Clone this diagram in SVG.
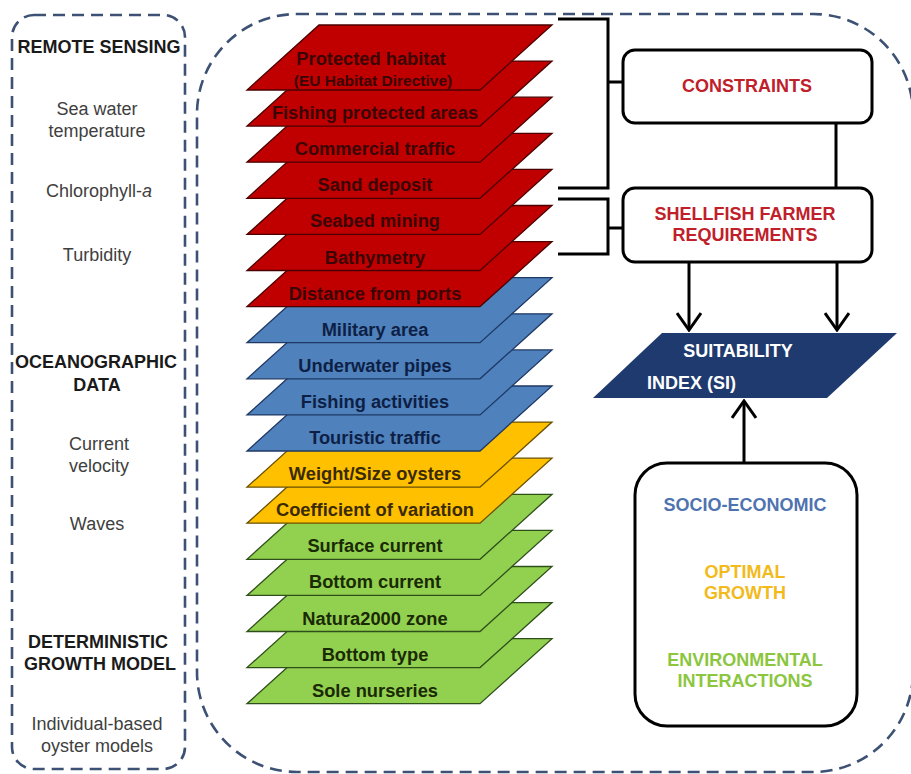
<svg xmlns="http://www.w3.org/2000/svg" xmlns:xlink="http://www.w3.org/1999/xlink" width="911" height="774" viewBox="0 0 911 774">
<style>
text{font-family:"Liberation Sans",Arial,sans-serif;text-anchor:middle}
.hd{font-weight:bold;font-size:18px;fill:#1a1a1a}
.it{font-size:18px;fill:#404040}
.lt{font-weight:bold;font-size:18.3px}
.dash{fill:none;stroke:#3c5173;stroke-width:2.6;stroke-dasharray:12 7}
.red{fill:#c00000;stroke:#4a0000;stroke-width:1.3}
.blue{fill:#4f81bd;stroke:#1f3864;stroke-width:1.3}
.orng{fill:#ffc000;stroke:#6b5000;stroke-width:1.3}
.grn{fill:#92d050;stroke:#2f4f1a;stroke-width:1.3}
.tr{fill:#3a0505}.tb{fill:#0e1f45}.to{fill:#3a2a00}.tg{fill:#1a2a05}
.box{fill:#fff;stroke:#000;stroke-width:3}
.ln{fill:none;stroke:#000;stroke-width:3}
.bt{font-weight:bold;font-size:18px}
.st{text-anchor:start}
</style>
<defs>
<polygon id="layer" points="247,90 480,90 552,25 319,25"/>
<marker id="chev" viewBox="0 0 20 26" refX="18" refY="13" markerWidth="20" markerHeight="26" markerUnits="userSpaceOnUse" orient="auto">
<path d="M1,1 L18,13 L1,25" fill="none" stroke="#000" stroke-width="3"/>
</marker>
</defs>
<rect width="911" height="774" fill="#fff"/>
<g id="frames">
<rect class="dash" x="12" y="15" width="173" height="754" rx="22"/>
<rect class="dash" x="197" y="14" width="716" height="758" rx="100"/>
</g>
<g id="left-panel">
<text class="hd" x="99" y="53">REMOTE SENSING</text>
<text class="it" x="97" y="115">Sea water</text>
<text class="it" x="97" y="137">temperature</text>
<text class="it" x="99" y="197">Chlorophyll-<tspan font-style="italic">a</tspan></text>
<text class="it" x="97" y="261">Turbidity</text>
<text class="hd" x="96" y="368">OCEANOGRAPHIC</text>
<text class="hd" x="97" y="391">DATA</text>
<text class="it" x="99" y="450">Current</text>
<text class="it" x="99" y="472">velocity</text>
<text class="it" x="97" y="530">Waves</text>
<text class="hd" x="98" y="648">DETERMINISTIC</text>
<text class="hd" x="100" y="670">GROWTH MODEL</text>
<text class="it" x="97" y="730">Individual-based</text>
<text class="it" x="97" y="752">oyster models</text>
</g>
<g id="layers">
<g id="l17" transform="translate(0,613.7)"><use xlink:href="#layer" class="grn"/><text class="lt tg" x="375" y="83">Sole nurseries</text></g>
<g id="l16" transform="translate(0,577.6)"><use xlink:href="#layer" class="grn"/><text class="lt tg" x="375" y="83">Bottom type</text></g>
<g id="l15" transform="translate(0,541.5)"><use xlink:href="#layer" class="grn"/><text class="lt tg" x="375" y="83">Natura2000 zone</text></g>
<g id="l14" transform="translate(0,505.4)"><use xlink:href="#layer" class="grn"/><text class="lt tg" x="375" y="83">Bottom current</text></g>
<g id="l13" transform="translate(0,469.3)"><use xlink:href="#layer" class="grn"/><text class="lt tg" x="375" y="83">Surface current</text></g>
<g id="l12" transform="translate(0,433.2)"><use xlink:href="#layer" class="orng"/><text class="lt to" x="375" y="83">Coefficient of variation</text></g>
<g id="l11" transform="translate(0,397.1)"><use xlink:href="#layer" class="orng"/><text class="lt to" x="375" y="83">Weight/Size oysters</text></g>
<g id="l10" transform="translate(0,361)"><use xlink:href="#layer" class="blue"/><text class="lt tb" x="375" y="83">Touristic traffic</text></g>
<g id="l9" transform="translate(0,324.9)"><use xlink:href="#layer" class="blue"/><text class="lt tb" x="375" y="83">Fishing activities</text></g>
<g id="l8" transform="translate(0,288.8)"><use xlink:href="#layer" class="blue"/><text class="lt tb" x="375" y="83">Underwater pipes</text></g>
<g id="l7" transform="translate(0,252.7)"><use xlink:href="#layer" class="blue"/><text class="lt tb" x="375" y="83">Military area</text></g>
<g id="l6" transform="translate(0,216.6)"><use xlink:href="#layer" class="red"/><text class="lt tr" x="375" y="83">Distance from ports</text></g>
<g id="l5" transform="translate(0,180.5)"><use xlink:href="#layer" class="red"/><text class="lt tr" x="375" y="83">Bathymetry</text></g>
<g id="l4" transform="translate(0,144.4)"><use xlink:href="#layer" class="red"/><text class="lt tr" x="375" y="83">Seabed mining</text></g>
<g id="l3" transform="translate(0,108.3)"><use xlink:href="#layer" class="red"/><text class="lt tr" x="375" y="83">Sand deposit</text></g>
<g id="l2" transform="translate(0,72.2)"><use xlink:href="#layer" class="red"/><text class="lt tr" x="375" y="83">Commercial traffic</text></g>
<g id="l1" transform="translate(0,36.1)"><use xlink:href="#layer" class="red"/><text class="lt tr" x="375" y="83">Fishing protected areas</text></g>
<g id="l0"><use xlink:href="#layer" class="red"/><text class="lt tr" x="371" y="65">Protected habitat</text><text class="tr" x="373" y="86" font-weight="bold" font-size="15.5">(EU Habitat Directive)</text></g>
</g>
<g id="connectors">
<polyline class="ln" points="558,19 608,19 608,188 558,188"/>
<line class="ln" x1="608" y1="82" x2="623" y2="82"/>
<polyline class="ln" points="558,199 608,199 608,254 558,254"/>
<line class="ln" x1="608" y1="228" x2="623" y2="228"/>
<line class="ln" x1="836" y1="123" x2="836" y2="188"/>
<line class="ln" x1="689" y1="262" x2="689" y2="330" marker-end="url(#chev)"/>
<line class="ln" x1="837" y1="262" x2="837" y2="330" marker-end="url(#chev)"/>
<line class="ln" x1="744" y1="463" x2="744" y2="401" marker-end="url(#chev)"/>
</g>
<g id="constraints">
<rect class="box" x="623" y="50" width="249" height="73" rx="12"/>
<text class="bt" x="747" y="92" fill="#c0202a">CONSTRAINTS</text>
</g>
<g id="requirements">
<rect class="box" x="623" y="188" width="249" height="74" rx="12"/>
<text class="bt" x="745" y="220" fill="#c0202a">SHELLFISH FARMER</text>
<text class="bt" x="745" y="241" fill="#c0202a">REQUIREMENTS</text>
</g>
<g id="si">
<polygon points="662,333 897,333 827,398 593,398" fill="#1f3a6e"/>
<text class="bt" x="738" y="357" fill="#fff">SUITABILITY</text>
<text class="bt st" x="647" y="389" fill="#fff">INDEX (SI)</text>
</g>
<g id="criteria">
<rect class="box" x="635" y="463" width="222" height="263" rx="32"/>
<text class="bt" x="745" y="511" fill="#4f72b0">SOCIO-ECONOMIC</text>
<text class="bt" x="745" y="578" fill="#f2ba1a">OPTIMAL</text>
<text class="bt" x="745" y="599" fill="#f2ba1a">GROWTH</text>
<text class="bt" x="745" y="666" fill="#8cc63f">ENVIRONMENTAL</text>
<text class="bt" x="745" y="687" fill="#8cc63f">INTERACTIONS</text>
</g>
</svg>
